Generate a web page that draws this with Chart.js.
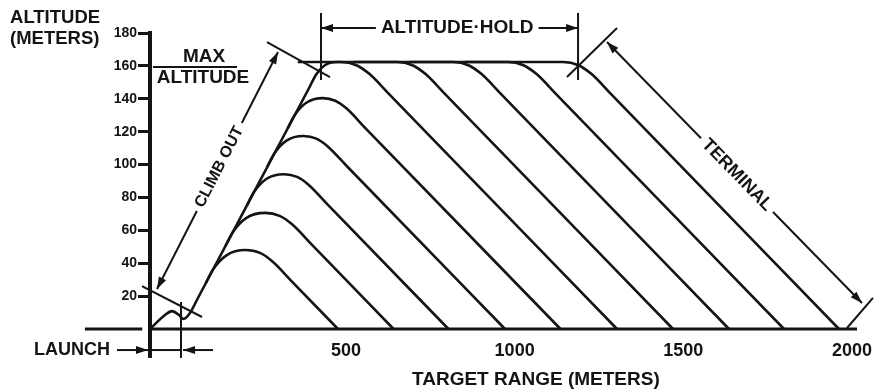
<!DOCTYPE html>
<html>
<head>
<meta charset="utf-8">
<script src="https://cdn.jsdelivr.net/npm/chart.js@4.4.1/dist/chart.umd.min.js"></script>
<style>
  html, body { margin: 0; padding: 0; background: #fff; }
</style>
</head>
<body>
<canvas id="chart" width="892" height="390"></canvas>
<script>
// Flight profiles, as [target range (m), altitude (m)]
const launchClimb = [[-81, 0], [-36.5, 8.5], [-15.8, 10.9], [5, 8.5], [18.3, 6.1], [37.6, 9.7],
  [60, 18.4], [391, 146.7], [411.7, 154.8], [437.2, 160.4], [472.5, 162.4]];

// climb-out branches that peak below max altitude
const peak48 = [[84.7, 28], [105.5, 36.1], [145.8, 44.8], [202.4, 48], [245.1, 46.3], [281.3, 41.2], [340.6, 28.7], [476.3, 0]];
const peak70 = [[142.8, 50.5], [163.6, 58.6], [203.9, 67.4], [260.5, 70.6], [303.2, 68.8], [339.4, 63.8], [398.7, 51.3], [641.2, 0]];
const peak94 = [[206, 75], [226.7, 83.1], [263.8, 91.2], [316, 94.1], [355.1, 92.5], [388, 87.9], [447.3, 75.3], [803.9, 0]];
const peak117 = [[266.7, 98.7], [287.5, 106.8], [323.7, 114.6], [374.1, 117.4], [412.3, 115.8], [444.3, 111.3], [503.6, 98.8], [971.4, 0]];
const peak140 = [[326.9, 121.9], [347.7, 130], [382.4, 137.6], [431.6, 140.4], [468.3, 138.8], [499.5, 134.5], [558.8, 121.9], [1136, 0]];

// branches that leave the altitude hold
const hold1 = [[357.2, 162.4], [484.9, 162.4], [531.2, 160.4], [570, 155], [629.3, 142.5], [1303.5, 0]];
const hold2 = [[523.2, 162.4], [650.9, 162.4], [697.2, 160.4], [736, 155], [795.3, 142.5], [1469.5, 0]];
const hold3 = [[689.2, 162.4], [816.9, 162.4], [863.2, 160.4], [902, 155], [961.3, 142.5], [1635.5, 0]];
const hold4 = [[852.3, 162.4], [980, 162.4], [1026.3, 160.4], [1065.1, 155], [1124.4, 142.5], [1798.6, 0]];
const hold5 = [[1015.3, 162.4], [1143, 162.4], [1189.3, 160.4], [1228.1, 155], [1287.4, 142.5], [1961.6, 0]];

const rangeTicks = [500, 1000, 1500, 2000];
const altitudeTicks = [20, 40, 60, 80, 100, 120, 140, 160, 180];

const INK = "#141414";
const FONT = '"Liberation Sans", Arial, Helvetica, sans-serif';

/** straight segment */
function seg(ctx, p, q, w) {
  ctx.lineWidth = w;
  ctx.beginPath();
  ctx.moveTo(p[0], p[1]);
  ctx.lineTo(q[0], q[1]);
  ctx.stroke();
}

/** filled arrow head with its tip on "tip", pointing away from "from" */
function head(ctx, tip, from, len = 12, half = 4) {
  const ang = Math.atan2(tip[1] - from[1], tip[0] - from[0]);
  const bx = tip[0] - len * Math.cos(ang), by = tip[1] - len * Math.sin(ang);
  ctx.beginPath();
  ctx.moveTo(tip[0], tip[1]);
  ctx.lineTo(bx + half * Math.sin(ang), by - half * Math.cos(ang));
  ctx.lineTo(bx - half * Math.sin(ang), by + half * Math.cos(ang));
  ctx.closePath();
  ctx.fill();
}

function arrow(ctx, p, q, headP, headQ) {
  seg(ctx, p, q, 2);
  if (headP) head(ctx, p, q);
  if (headQ) head(ctx, q, p);
}

/** dimension arrow broken by a label sitting on it */
function labelledArrow(ctx, p, q, t, label, font) {
  const dx = q[0] - p[0], dy = q[1] - p[1];
  const len = Math.hypot(dx, dy), ux = dx / len, uy = dy / len;
  ctx.font = font;
  const half = ctx.measureText(label).width / 2 + 5;
  const c = [p[0] + dx * t, p[1] + dy * t];
  seg(ctx, p, [c[0] - ux * half, c[1] - uy * half], 2);
  seg(ctx, [c[0] + ux * half, c[1] + uy * half], q, 2);
  head(ctx, p, q);
  head(ctx, q, p);
  ctx.save();
  ctx.translate(c[0], c[1]);
  ctx.rotate(Math.atan2(dy, dx));
  ctx.textAlign = "center";
  ctx.textBaseline = "middle";
  ctx.fillText(label, 0, 0);
  ctx.restore();
}

function text(ctx, str, pt, size, align) {
  ctx.font = "bold " + size + "px " + FONT;
  ctx.textAlign = align;
  ctx.textBaseline = "middle";
  ctx.fillText(str, pt[0], pt[1]);
}

/** axis lines, brackets, dimension arrows and captions of the diagram */
const diagramNotes = {
  id: "diagramNotes",
  afterDraw(chart) {
    const { ctx } = chart;
    const xs = chart.scales.x, ys = chart.scales.y;
    const P = (r, a) => [xs.getPixelForValue(r), ys.getPixelForValue(a)];
    ctx.save();
    ctx.strokeStyle = INK;
    ctx.fillStyle = INK;
    ctx.lineCap = "butt";

    // ground line and axis foot
    seg(ctx, P(-274, 0), P(-104, 0), 3);
    seg(ctx, P(-81, 0), P(2015, 0), 3);
    seg(ctx, P(-81, 0), P(-81, -17.6), 4);

    // launch bracket
    seg(ctx, P(10.9, 16.4), P(10.9, -17.6), 2);
    seg(ctx, P(-81, -12.8), P(10.9, -12.8), 2);
    arrow(ctx, P(-178.8, -12.8), P(-86.9, -12.8), false, true);
    arrow(ctx, P(105.8, -12.8), P(17, -12.8), false, true);
    text(ctx, "LAUNCH", P(-199.6, -12.8), 18, "right");
    seg(ctx, P(-104.7, 26.1), P(73.2, 7.3), 2);

    // climb out
    labelledArrow(ctx, P(-60.2, 24.3), P(298.5, 168.4), 0.515, "CLIMB OUT", "bold 16px " + FONT);

    // max altitude marks
    seg(ctx, P(265.9, 174.5), P(452.6, 153.2), 2);
    seg(ctx, P(426, 192.2), P(426, 151.4), 2);
    text(ctx, "MAX", P(79.1, 165.7), 19, "center");
    seg(ctx, P(-72.1, 159.3), P(176.9, 159.3), 2);
    text(ctx, "ALTITUDE", P(76.1, 152.9), 19, "center");

    // altitude hold
    labelledArrow(ctx, P(426, 183), P(1188, 183), 0.53, "ALTITUDE\u00b7HOLD", "bold 19px " + FONT);
    seg(ctx, P(1188, 192.2), P(1188, 151.4), 2);
    seg(ctx, P(1155.2, 153.2), P(1303.5, 183), 2);

    // terminal
    labelledArrow(ctx, P(1273.8, 174.5), P(2029.8, 15.8), 0.51, "TERMINAL", "bold 18px " + FONT);
    seg(ctx, P(1985.3, 0.6), P(2062.4, 18.9), 2);

    // axis captions
    text(ctx, "ALTITUDE", P(-496, 189.2), 18.5, "left");
    text(ctx, "(METERS)", P(-496, 176.3), 18.5, "left");
    text(ctx, "TARGET RANGE (METERS)", P(1063, -30.7), 19, "center");

    ctx.restore();
  }
};

const lineStyle = {
  borderColor: INK,
  borderWidth: 2.6,
  pointRadius: 0,
  fill: false,
  cubicInterpolationMode: "monotone",
  clip: false
};

const profiles = [launchClimb.concat(hold5), peak48, peak70, peak94, peak117, peak140,
  hold1, hold2, hold3, hold4];

new Chart(document.getElementById("chart"), {
  type: "line",
  data: {
    datasets: profiles.map((p) => ({
      ...lineStyle,
      data: p.map(([x, y]) => ({ x, y }))
    }))
  },
  options: {
    responsive: false,
    animation: false,
    devicePixelRatio: 1,
    layout: { padding: { top: 33, right: 35, left: 0, bottom: 0 } },
    plugins: { legend: { display: false }, tooltip: { enabled: false } },
    scales: {
      x: {
        type: "linear",
        min: -81,
        max: 2015,
        afterBuildTicks: (s) => { s.ticks = rangeTicks.map((v) => ({ value: v })); },
        afterFit: (s) => { s.height = 61; },
        grid: { display: false, drawTicks: false },
        border: { display: false },
        ticks: {
          color: INK,
          padding: 11,
          maxRotation: 0,
          autoSkip: false,
          font: { family: FONT, size: 18, weight: "bold" },
          callback: (v) => String(v)
        }
      },
      y: {
        type: "linear",
        min: 0,
        max: 180,
        afterBuildTicks: (s) => { s.ticks = altitudeTicks.map((v) => ({ value: v })); },
        afterFit: (s) => { s.width = 150; },
        grid: { drawOnChartArea: false, drawTicks: true, tickLength: 12, lineWidth: 3, color: INK },
        border: { display: true, color: INK, width: 4 },
        ticks: {
          color: INK,
          padding: 1,
          font: { family: FONT, size: 14, weight: "bold" },
          callback: (v) => String(v)
        }
      }
    }
  },
  plugins: [diagramNotes]
});
</script>
</body>
</html>
